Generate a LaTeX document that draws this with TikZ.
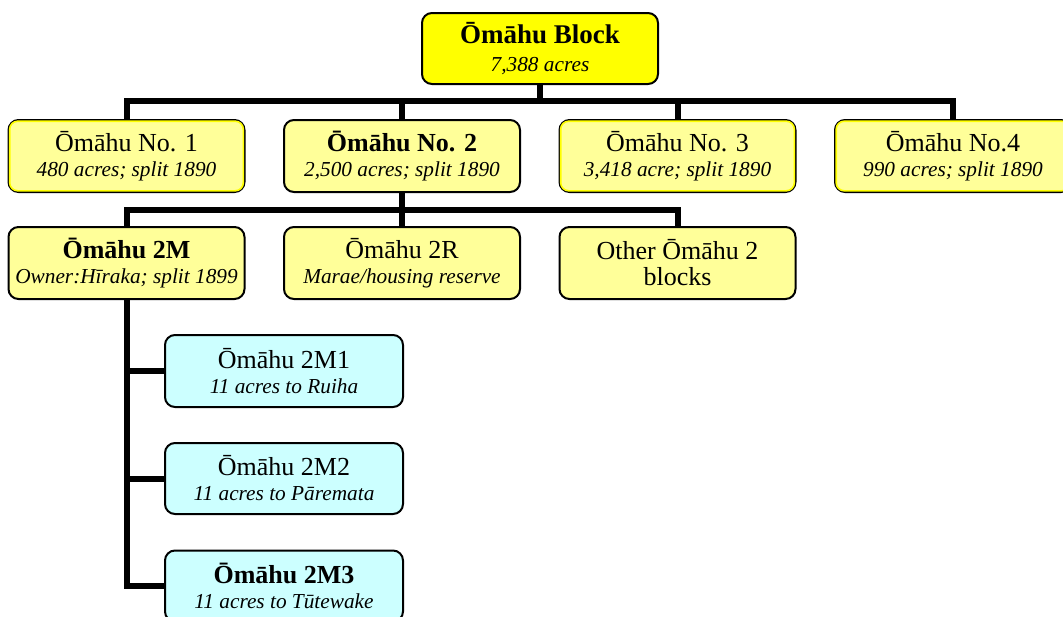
\documentclass[tikz,border=0pt]{standalone}
\usepackage{fontspec}
\setmainfont{Liberation Serif}
\definecolor{topyellow}{HTML}{FFFF00}
\definecolor{lightyellow}{HTML}{FFFF99}
\definecolor{lightcyan}{HTML}{CCFFFF}
\newcommand{\mainsz}{\fontsize{26}{25}\selectfont}
\newcommand{\subsz}{\fontsize{21.3}{25}\selectfont\itshape}
\tikzset{
  box/.style={draw=black, line width=2pt, rounded corners=10pt, fill=lightyellow,
    align=center, inner sep=0pt, minimum height=72pt, minimum width=236pt, font=\mainsz},
  topbox/.style={box, fill=topyellow},
  bluebox/.style={box, fill=lightcyan, minimum width=238pt},
  conn/.style={draw=black, line width=6pt, line join=miter},
  fringe/.style={draw=topyellow, line width=1.6pt, rounded corners=8pt}
}
\begin{document}
\begin{tikzpicture}[x=1pt,y=-1pt]
\useasboundingbox (0,0) rectangle (1063,616);
% nodes
\node[topbox, minimum height=71pt] (top) at (540,48.5)
  {\raisebox{3pt}{\fontsize{27}{25}\selectfont\textbf{Ōmāhu Block}}\\{\subsz 7,388 acres}};
\node[box] (n1) at (126.5,156)
  {Ōmāhu No. 1\\{\subsz 480 acres; split 1890}};
\node[box] (n2) at (402,156)
  {\textbf{Ōmāhu No. 2}\\{\subsz 2,500 acres; split 1890}};
\node[box] (n3) at (677.5,156)
  {Ōmāhu No. 3\\{\subsz 3,418 acre; split 1890}};
\node[box] (n4) at (953,156)
  {Ōmāhu No.4\\{\subsz 990 acres; split 1890}};
\node[box] (m) at (126.5,263)
  {\textbf{Ōmāhu 2M}\\{\subsz Owner:Hīraka; split 1899}};
\node[box] (r) at (402,263)
  {Ōmāhu 2R\\{\subsz Marae/housing reserve}};
\node[box] (o) at (677.5,263)
  {{\mainsz\rmfamily Other Ōmāhu 2}\\[1pt]{\mainsz\rmfamily\upshape blocks}};
\node[bluebox, minimum height=72pt] (c1) at (284,371)
  {Ōmāhu 2M1\\{\subsz 11 acres to Ruiha}};
\node[bluebox, minimum height=71pt] (c2) at (284,478.5)
  {Ōmāhu 2M2\\{\subsz 11 acres to Pāremata}};
\node[bluebox, minimum height=71pt] (c3) at (284,586)
  {\textbf{Ōmāhu 2M3}\\{\subsz 11 acres to Tūtewake}};
% yellow inner fringes
\foreach \n in {n1,n3,n4}
  \draw[fringe] ([xshift=2.2pt,yshift=-2.2pt]\n.north west) rectangle ([xshift=-2.2pt,yshift=2.2pt]\n.south east);
% connectors
\coordinate (b1) at (540,101);
\coordinate (b2) at (402,210);
\draw[conn] (top.south) -- (b1);
\draw[conn] (n1.north) |- (b1);
\draw[conn] (n2.north) |- (b1);
\draw[conn] (n3.north) |- (b1);
\draw[conn] (n4.north) |- (b1);
\draw[conn] (n2.south) -- (r.north);
\draw[conn] (m.north) |- (b2);
\draw[conn] (o.north) |- (b2);
\draw[conn] (m.south) |- (c3.west);
\draw[conn] (m.south) |- (c1.west);
\draw[conn] (m.south) |- (c2.west);
\end{tikzpicture}
\end{document}
